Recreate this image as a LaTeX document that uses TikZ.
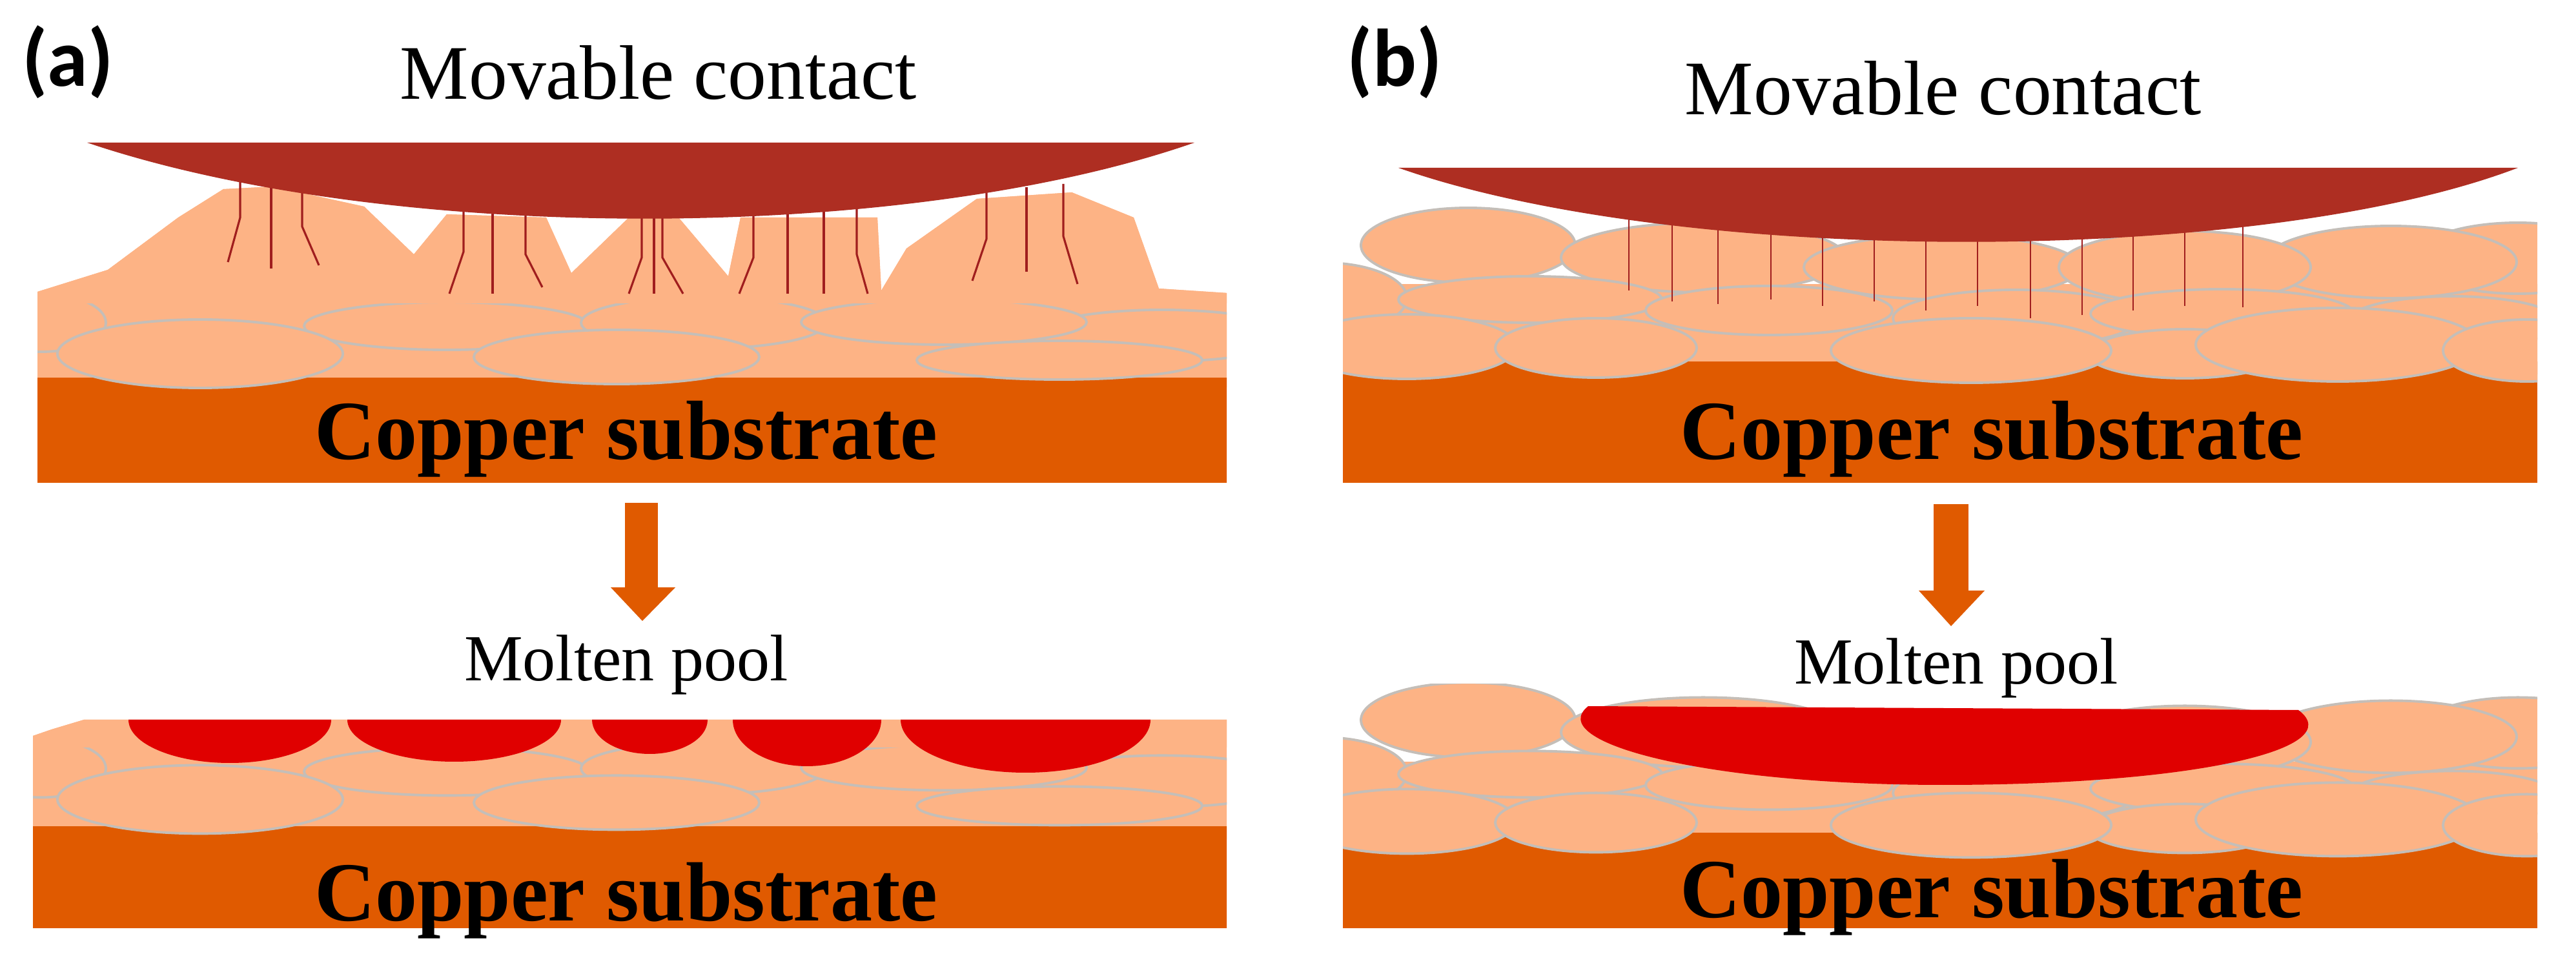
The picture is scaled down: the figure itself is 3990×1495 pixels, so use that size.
\documentclass[tikz,border=0pt]{standalone}
\usepackage{fontspec}
\setmainfont{Liberation Serif}
\newfontfamily\lblfont{Carlito}
\begin{document}
\begin{tikzpicture}[x=0.01cm,y=0.01cm,
  grain/.style={fill=peach,draw=grainline,line width=1.1pt},
  wire/.style={draw=wirered,line width=0.9pt},
  lbl/.style={inner sep=0pt,font=\lblfont\bfseries\fontsize{36}{40}\selectfont},
  title/.style={inner sep=0pt,font=\fontsize{34}{40}\selectfont},
  pooltxt/.style={inner sep=0pt,font=\fontsize{29}{34}\selectfont},
  subtxt/.style={inner sep=0pt,font=\bfseries\fontsize{37}{44}\selectfont}]
\definecolor{peach}{HTML}{FDB385}
\definecolor{grainline}{HTML}{C4BEB8}
\definecolor{substr}{HTML}{E05A00}
\definecolor{contactc}{HTML}{AE2E22}
\definecolor{wirered}{HTML}{A01E1E}
\definecolor{poolred}{HTML}{E00000}
\useasboundingbox (0,0) rectangle (3990,-1495);

% ===== (a) top =====
\begin{scope}
\clip (58,0) rectangle (1900,-750);
\fill[peach] (58,-452) -- (167,-418) -- (276,-337) -- (346,-293) -- (423,-289) -- (564,-320) -- (641,-394) -- (692,-332) -- (846,-337) -- (885,-423) -- (974,-337) -- (1051,-337) -- (1128,-428) -- (1147,-337) -- (1359,-337) -- (1365,-450) -- (1404,-385) -- (1513,-308) -- (1660,-298) -- (1756,-337) -- (1795,-447) -- (1917,-455) -- (1917,-600) -- (58,-600) -- cycle;
\fill[substr] (58,-585) rectangle (1917,-748);
\draw[grain] (64,-500) ellipse [x radius=100,y radius=45];
\draw[grain] (1800,-520) ellipse [x radius=200,y radius=40];
\draw[grain] (692,-505) ellipse [x radius=221,y radius=37];
\draw[grain] (1090,-500) ellipse [x radius=190,y radius=40];
\draw[grain] (1462,-499) ellipse [x radius=221,y radius=35];
\draw[grain] (310,-548) ellipse [x radius=221,y radius=53];
\draw[grain] (955,-553) ellipse [x radius=221,y radius=42];
\draw[grain] (1641,-558) ellipse [x radius=221,y radius=30];
\fill[peach] (58,-452) -- (167,-418) -- (276,-337) -- (346,-293) -- (423,-289) -- (564,-320) -- (641,-394) -- (692,-332) -- (846,-337) -- (885,-423) -- (974,-337) -- (1051,-337) -- (1128,-428) -- (1147,-337) -- (1359,-337) -- (1365,-450) -- (1404,-385) -- (1513,-308) -- (1660,-298) -- (1756,-337) -- (1795,-447) -- (1917,-455) -- (1917,-470) -- (58,-470) -- cycle;
\end{scope}
\draw[wire] (372,-280) -- (372,-337) -- (353,-406);
\draw[wire] (420,-280) -- (420,-416);
\draw[wire] (468,-290) -- (468,-351) -- (494,-411);
\draw[wire] (718,-320) -- (718,-390) -- (696,-455);
\draw[wire] (763,-320) -- (763,-455);
\draw[wire] (814,-320) -- (814,-394) -- (840,-445);
\draw[wire] (994,-330) -- (994,-399) -- (974,-455);
\draw[wire] (1013,-330) -- (1013,-455);
\draw[wire] (1026,-330) -- (1026,-399) -- (1058,-455);
\draw[wire] (1167,-330) -- (1167,-399) -- (1145,-455);
\draw[wire] (1220,-330) -- (1220,-455);
\draw[wire] (1276,-320) -- (1276,-455);
\draw[wire] (1327,-320) -- (1327,-394) -- (1344,-455);
\draw[wire] (1528,-290) -- (1528,-370) -- (1506,-435);
\draw[wire] (1590,-290) -- (1590,-421);
\draw[wire] (1647,-285) -- (1647,-366) -- (1669,-440);
\fill[contactc] (135,-221) -- (1850,-221) .. controls (1400,-378) and (600,-378) .. (135,-221) -- cycle;
\node[lbl] (la) at (105,-96) {(a)};
\node[title] (mca) at (1020,-113) {Movable contact};
\node[subtxt] (csa) at (970,-680) {Copper substrate};

% arrow a
\fill[substr] (968,-779) rectangle (1019,-912);
\fill[substr] (946,-910) -- (1046,-910) -- (995,-962) -- cycle;
\node[pooltxt] (mpa) at (970,-1030) {Molten pool};

% ===== (a) bottom =====
\begin{scope}
\clip (51,-1100) rectangle (1900,-1440);
\fill[peach] (51,-1140) -- (80,-1130) -- (130,-1115) -- (1914,-1115) -- (1914,-1300) -- (51,-1300) -- cycle;
\fill[substr] (51,-1280) rectangle (1914,-1438);
\begin{scope}[yshift=-6.9cm]
\draw[grain] (64,-500) ellipse [x radius=100,y radius=45];
\draw[grain] (1800,-520) ellipse [x radius=200,y radius=40];
\draw[grain] (692,-505) ellipse [x radius=221,y radius=37];
\draw[grain] (1090,-500) ellipse [x radius=190,y radius=40];
\draw[grain] (1462,-499) ellipse [x radius=221,y radius=35];
\draw[grain] (310,-548) ellipse [x radius=221,y radius=53];
\draw[grain] (955,-553) ellipse [x radius=221,y radius=42];
\draw[grain] (1641,-558) ellipse [x radius=221,y radius=30];
\end{scope}
\fill[peach] (51,-1140) -- (80,-1130) -- (130,-1115) -- (1914,-1115) -- (1914,-1158) -- (51,-1158) -- cycle;
\end{scope}
\fill[poolred] (199,-1115) arc[start angle=180,end angle=360,x radius=157,y radius=67] -- cycle;
\fill[poolred] (538,-1115) arc[start angle=180,end angle=360,x radius=165.5,y radius=65] -- cycle;
\fill[poolred] (917,-1115) arc[start angle=180,end angle=360,x radius=89.5,y radius=53] -- cycle;
\fill[poolred] (1135,-1115) arc[start angle=180,end angle=360,x radius=115,y radius=72] -- cycle;
\fill[poolred] (1395,-1115) arc[start angle=180,end angle=360,x radius=193.5,y radius=82] -- cycle;
\node[subtxt] (csa2) at (970,-1395) {Copper substrate};

% ===== (b) top =====
\begin{scope}
\clip (2080,-300) rectangle (3930,-750);
\fill[peach] (2080,-440) rectangle (3958,-580);
\fill[substr] (2080,-560) rectangle (3958,-748);
\draw[grain] (2274,-380) ellipse [x radius=166,y radius=58];
\draw[grain] (3900,-400) ellipse [x radius=160,y radius=55];
\draw[grain] (3703,-406) ellipse [x radius=195,y radius=56];
\draw[grain] (2638,-399) ellipse [x radius=220,y radius=54];
\draw[grain] (3008,-414) ellipse [x radius=214,y radius=50];
\draw[grain] (3384,-414) ellipse [x radius=195,y radius=56];
\draw[grain] (2051,-462) ellipse [x radius=128,y radius=55];
\draw[grain] (2370,-464) ellipse [x radius=204,y radius=36];
\draw[grain] (2740,-481) ellipse [x radius=191,y radius=38];
\draw[grain] (3123,-493) ellipse [x radius=191,y radius=44];
\draw[grain] (3442,-486) ellipse [x radius=204,y radius=38];
\draw[grain] (3799,-500) ellipse [x radius=166,y radius=41];
\draw[grain] (2179,-537) ellipse [x radius=170,y radius=50];
\draw[grain] (2472,-539) ellipse [x radius=156,y radius=46];
\draw[grain] (3384,-548) ellipse [x radius=150,y radius=38];
\draw[grain] (3053,-543) ellipse [x radius=217,y radius=50];
\draw[grain] (3621,-534) ellipse [x radius=220,y radius=57];
\draw[grain] (3914,-543) ellipse [x radius=130,y radius=48];
\end{scope}
\foreach \x/\b in {2523/450,2590/467,2661/471,2743/464,2823/474,2903/467,2983/481,3063/474,3145/493,3225/488,3304/481,3384/474,3474/476}
  \draw[wire,line width=0.7pt] (\x,-330) -- (\x,-\b);
\fill[contactc] (2166,-260) -- (3900,-260) .. controls (3500,-413) and (2600,-413) .. (2166,-260) -- cycle;
\node[lbl] (lb) at (2160,-96) {(b)};
\node[title] (mcb) at (3010,-137) {Movable contact};
\node[subtxt] (csb) at (3085,-680) {Copper substrate};

% arrow b
\fill[substr] (2995,-781) rectangle (3049,-917);
\fill[substr] (2972,-915) -- (3074,-915) -- (3022,-970) -- cycle;
\node[pooltxt] (mpb) at (3030,-1035) {Molten pool};

% ===== (b) bottom =====
\begin{scope}
\clip (2080,-1060) rectangle (3930,-1440);
\fill[peach] (2080,-1180) rectangle (3958,-1300);
\fill[substr] (2080,-1290) rectangle (3958,-1438);
\begin{scope}[yshift=-7.35cm]
\draw[grain] (2274,-380) ellipse [x radius=166,y radius=58];
\draw[grain] (3900,-400) ellipse [x radius=160,y radius=55];
\draw[grain] (3703,-406) ellipse [x radius=195,y radius=56];
\draw[grain] (2638,-399) ellipse [x radius=220,y radius=54];
\draw[grain] (3008,-414) ellipse [x radius=214,y radius=50];
\draw[grain] (3384,-414) ellipse [x radius=195,y radius=56];
\draw[grain] (2051,-462) ellipse [x radius=128,y radius=55];
\draw[grain] (2370,-464) ellipse [x radius=204,y radius=36];
\draw[grain] (2740,-481) ellipse [x radius=191,y radius=38];
\draw[grain] (3123,-493) ellipse [x radius=191,y radius=44];
\draw[grain] (3442,-486) ellipse [x radius=204,y radius=38];
\draw[grain] (3799,-500) ellipse [x radius=166,y radius=41];
\draw[grain] (2179,-537) ellipse [x radius=170,y radius=50];
\draw[grain] (2472,-539) ellipse [x radius=156,y radius=46];
\draw[grain] (3384,-548) ellipse [x radius=150,y radius=38];
\draw[grain] (3053,-543) ellipse [x radius=217,y radius=50];
\draw[grain] (3621,-534) ellipse [x radius=220,y radius=57];
\draw[grain] (3914,-543) ellipse [x radius=130,y radius=48];
\end{scope}
\end{scope}
\fill[poolred] (2460,-1094) -- (3560,-1100) .. controls (3640,-1160) and (3400,-1216) .. (3010,-1216) .. controls (2640,-1216) and (2390,-1150) .. (2460,-1094) -- cycle;
\node[subtxt] (csb2) at (3085,-1390) {Copper substrate};
\end{tikzpicture}
\end{document}
